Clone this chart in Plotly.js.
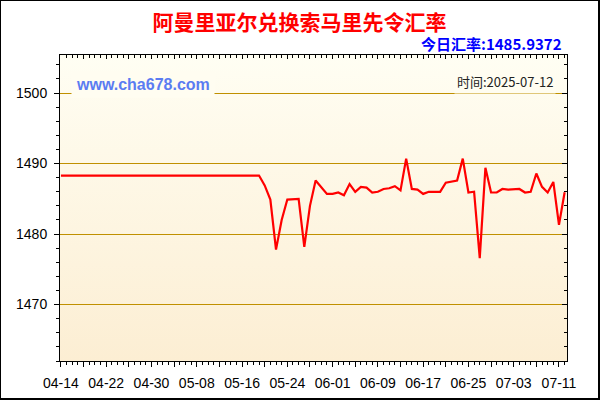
<!DOCTYPE html>
<html>
<head>
<meta charset="utf-8">
<script src="https://cdn.plot.ly/plotly-3.0.1.min.js"></script>
<style>
html,body{margin:0;padding:0;background:#fff;}
#wrap{width:600px;height:400px;box-sizing:border-box;border-style:solid;border-color:#000;border-width:1px 2px 2px 1px;background:#fff;}
#chart{width:597px;height:397px;}
</style>
</head>
<body>
<div id="wrap"><div id="chart"></div></div>
<script>
// ---- data ----
const dates = [
 "2025-04-14","2025-04-15","2025-04-16","2025-04-17","2025-04-18","2025-04-19","2025-04-20",
 "2025-04-21","2025-04-22","2025-04-23","2025-04-24","2025-04-25","2025-04-26","2025-04-27",
 "2025-04-28","2025-04-29","2025-04-30","2025-05-01","2025-05-02","2025-05-03","2025-05-04",
 "2025-05-05","2025-05-06","2025-05-07","2025-05-08","2025-05-09","2025-05-10","2025-05-11",
 "2025-05-12","2025-05-13","2025-05-14","2025-05-15","2025-05-16","2025-05-17","2025-05-18",
 "2025-05-19","2025-05-20","2025-05-21","2025-05-22","2025-05-23","2025-05-24","2025-05-25",
 "2025-05-26","2025-05-27","2025-05-28","2025-05-29","2025-05-30","2025-05-31","2025-06-01",
 "2025-06-02","2025-06-03","2025-06-04","2025-06-05","2025-06-06","2025-06-07","2025-06-08",
 "2025-06-09","2025-06-10","2025-06-11","2025-06-12","2025-06-13","2025-06-14","2025-06-15",
 "2025-06-16","2025-06-17","2025-06-18","2025-06-19","2025-06-20","2025-06-21","2025-06-22",
 "2025-06-23","2025-06-24","2025-06-25","2025-06-26","2025-06-27","2025-06-28","2025-06-29",
 "2025-06-30","2025-07-01","2025-07-02","2025-07-03","2025-07-04","2025-07-05","2025-07-06",
 "2025-07-07","2025-07-08","2025-07-09","2025-07-10","2025-07-11","2025-07-12"
];
const rates = [
 1488.3,1488.3,1488.3,1488.3,1488.3,1488.3,1488.3,
 1488.3,1488.3,1488.3,1488.3,1488.3,1488.3,1488.3,
 1488.3,1488.3,1488.3,1488.3,1488.3,1488.3,1488.3,
 1488.3,1488.3,1488.3,1488.3,1488.3,1488.3,1488.3,
 1488.3,1488.3,1488.3,1488.3,1488.3,1488.3,1488.3,
 1488.3,1486.9,1484.9,1477.8,1482.0,1484.9,1485.0,
 1485.0,1478.2,1484.0,1487.6,1486.7,1485.7,1485.7,
 1485.9,1485.5,1487.1,1486.0,1486.7,1486.6,1485.9,
 1486.0,1486.4,1486.5,1486.8,1486.2,1490.7,1486.4,
 1486.3,1485.7,1486.0,1486.0,1486.0,1487.3,1487.5,
 1487.6,1490.7,1485.9,1486.0,1476.6,1489.4,1485.9,
 1485.9,1486.4,1486.3,1486.4,1486.4,1485.9,1486.0,
 1488.6,1486.7,1485.9,1487.4,1481.3,1485.9372
];
const tickDates = [
 "2025-04-14","2025-04-18","2025-04-22","2025-04-26","2025-04-30","2025-05-04",
 "2025-05-08","2025-05-12","2025-05-16","2025-05-20","2025-05-24","2025-05-28",
 "2025-06-01","2025-06-05","2025-06-09","2025-06-13","2025-06-17","2025-06-21",
 "2025-06-25","2025-06-29","2025-07-03","2025-07-07","2025-07-11"
];
const tickLabels = [
 "04-14","","04-22","","04-30","","05-08","","05-16","","05-24","",
 "06-01","","06-09","","06-17","","06-25","","07-03","","07-11"
];
const chartTitle = "阿曼里亚尔兑换索马里先令汇率";
const todayRate = "今日汇率:1485.9372";
const siteText = "www.cha678.com";
const timeText = "时间:2025-07-12";

// ---- styling ----
const xRange = ["2025-04-13 20:00","2025-07-12 10:00"];
const yRange = [1462, 1505.4];
const gridColor = "#C09000";
const bgTop = "#FFFEF3", bgBottom = "#FCEED3";
const gradSvg = '<svg xmlns="http://www.w3.org/2000/svg" width="10" height="100" preserveAspectRatio="none">' +
  '<defs><linearGradient id="g" x1="0" y1="0" x2="0" y2="1"><stop offset="0" stop-color="' + bgTop +
  '"/><stop offset="1" stop-color="' + bgBottom + '"/></linearGradient></defs>' +
  '<rect width="10" height="100" fill="url(#g)"/></svg>';
const gradUri = "data:image/svg+xml;charset=utf-8," + encodeURIComponent(gradSvg);

const tickFont = {family:"Liberation Sans, Arial, sans-serif", size:14, color:"#000"};

const traces = [
  {x:dates, y:rates, type:"scatter", mode:"lines", line:{color:"#FF0000", width:2.2}, hoverinfo:"x+y"},
  {x:dates, y:rates, type:"scatter", mode:"lines", xaxis:"x2", yaxis:"y2",
   line:{color:"rgba(0,0,0,0)", width:0}, hoverinfo:"skip"}
];

const layout = {
  width:597, height:397,
  margin:{l:59, r:31, t:54, b:37},
  paper_bgcolor:"#FFFFFF",
  plot_bgcolor:"rgba(0,0,0,0)",
  showlegend:false,
  title:{text:"<b>"+chartTitle+"</b>", xref:"container", x:0.5, xanchor:"center",
         yref:"container", y:0.945, yanchor:"middle",
         font:{family:"Noto Sans CJK SC, sans-serif", size:21, color:"#FF0000"}},
  xaxis:{type:"date", range:xRange, tickmode:"array", tickvals:tickDates, ticktext:tickLabels,
         ticks:"outside", ticklen:5, tickcolor:"#000", tickwidth:1,
         showline:true, linecolor:"#000", linewidth:1, showgrid:false, zeroline:false,
         tickfont:tickFont, ticklabelstandoff:4,
         minor:{ticks:"outside", ticklen:3, tickcolor:"#000", dtick:86400000, tick0:"2025-04-14", showgrid:false}},
  yaxis:{range:yRange, tickmode:"linear", tick0:1470, dtick:10,
         ticks:"outside", ticklen:5, tickcolor:"#000", tickwidth:1,
         showline:true, linecolor:"#000", linewidth:1,
         showgrid:true, gridcolor:gridColor, gridwidth:1, zeroline:false,
         tickfont:tickFont, ticklabelstandoff:4,
         minor:{ticks:"outside", ticklen:3, tickcolor:"#000", dtick:2, tick0:1470, showgrid:false}},
  xaxis2:{type:"date", range:xRange, overlaying:"x", side:"top", anchor:"y",
          tickmode:"array", tickvals:tickDates, ticks:"inside", ticklen:4, tickcolor:"#000",
          showticklabels:false, showline:true, linecolor:"#000", linewidth:1, showgrid:false, zeroline:false,
          minor:{ticks:"inside", ticklen:3, tickcolor:"#000", dtick:86400000, tick0:"2025-04-14", showgrid:false}},
  yaxis2:{range:yRange, overlaying:"y", side:"right", anchor:"x",
          tickmode:"linear", tick0:1470, dtick:10, ticks:"inside", ticklen:5, tickcolor:"#000",
          showticklabels:false, showline:true, linecolor:"#000", linewidth:1, showgrid:false, zeroline:false,
          minor:{ticks:"inside", ticklen:3, tickcolor:"#000", dtick:2, tick0:1470, showgrid:false}},
  images:[{source:gradUri, xref:"paper", yref:"paper", x:0, y:1, sizex:1, sizey:1,
           xanchor:"left", yanchor:"top", sizing:"stretch", layer:"below"}],
  annotations:[
    {text:"<b>"+todayRate+"</b>", xref:"paper", yref:"paper", x:0.994, y:1.036,
     xanchor:"right", yanchor:"middle", showarrow:false,
     font:{family:"Noto Sans CJK SC, sans-serif", size:15, color:"#0000FF"}},
    {text:"<b>"+siteText+"</b>", xref:"paper", yref:"paper", x:0.021, y:0.905,
     xanchor:"left", yanchor:"middle", showarrow:false, bgcolor:"#FFFDF1", borderpad:4,
     font:{family:"Liberation Sans, Arial, sans-serif", size:16, color:"#5B7CF2"}},
    {text:timeText, xref:"paper", yref:"paper", x:0.978, y:0.915,
     xanchor:"right", yanchor:"middle", showarrow:false, bgcolor:"#FFFDF1", borderpad:2,
     font:{family:"Noto Sans CJK SC, sans-serif", size:13, color:"#222"}}
  ]
};

Plotly.newPlot("chart", traces, layout, {displayModeBar:false, staticPlot:true});
</script>
</body>
</html>
